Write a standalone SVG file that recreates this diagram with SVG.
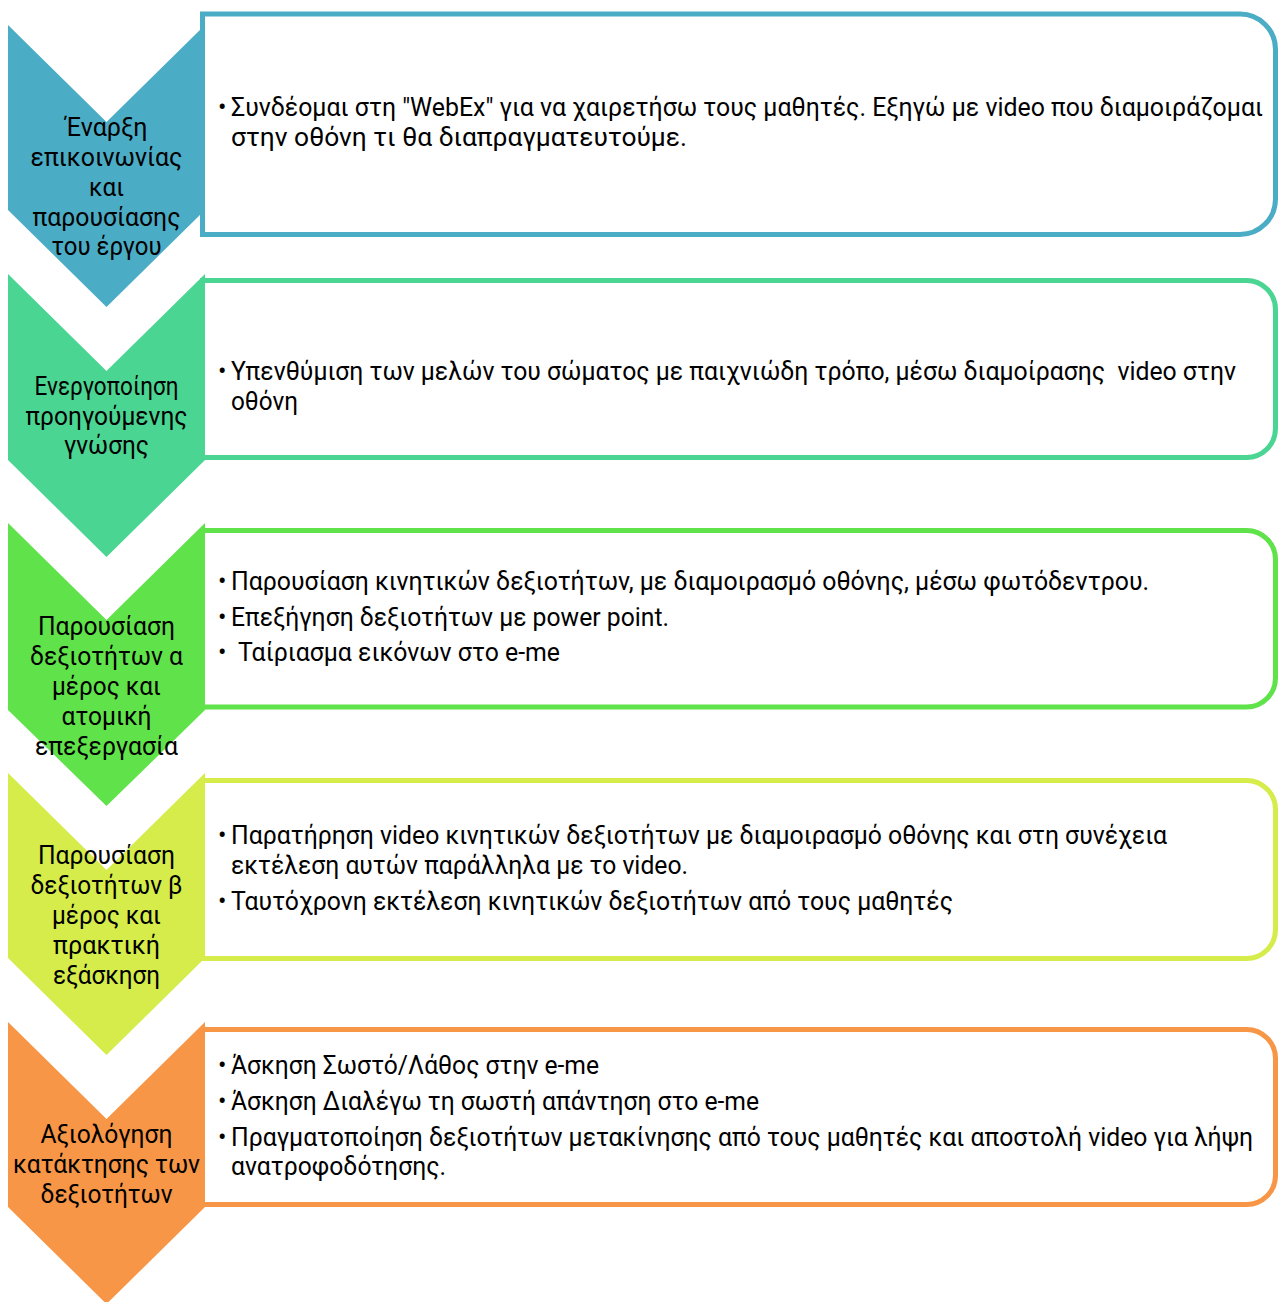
<svg xmlns="http://www.w3.org/2000/svg" width="1279" height="1302" viewBox="0 0 1279 1302">
<style>
  .box { fill: #ffffff; stroke-width: 5; }
  .lbl { font-family: Roboto, "Liberation Sans", "Noto Sans", sans-serif; font-size: 25px; fill: #000000; text-anchor: middle; }
  .txt { font-family: Roboto, "Liberation Sans", "Noto Sans", sans-serif; font-size: 25px; fill: #000000; white-space: pre; }
  .b1 { stroke: #4BACC6; } .f1 { fill: #4BACC6; }
  .b2 { stroke: #4AD593; } .f2 { fill: #4AD593; }
  .b3 { stroke: #60E24A; } .f3 { fill: #60E24A; }
  .b4 { stroke: #D5EC4A; } .f4 { fill: #D5EC4A; }
  .b5 { stroke: #F79646; } .f5 { fill: #F79646; }
</style>
<g id="connectors"></g>

<g id="step1">
  <path class="box b1" d="M202.5,14 H1240 A35.5,35.5 0 0 1 1275.5,49.5 V199 A35.5,35.5 0 0 1 1240,234.5 H202.5 Z"/>
  <path class="f1" d="M8,25 L106.5,122 L205,25 L205,210 L106.5,307 L8,210 Z"/>
  <text class="lbl" x="106.5" y="136" textLength="82" lengthAdjust="spacingAndGlyphs">Έναρξη</text>
  <text class="lbl" x="106.5" y="166" textLength="152" lengthAdjust="spacingAndGlyphs">επικοινωνίας</text>
  <text class="lbl" x="106.5" y="196" textLength="35" lengthAdjust="spacingAndGlyphs">και</text>
  <text class="lbl" x="106.5" y="226" textLength="148" lengthAdjust="spacingAndGlyphs">παρουσίασης</text>
  <text class="lbl" x="106.5" y="255" textLength="110" lengthAdjust="spacingAndGlyphs">του έργου</text>
  <text class="txt" x="218" y="116">•</text>
  <text class="txt" x="231" y="116" textLength="1032" lengthAdjust="spacingAndGlyphs">Συνδέομαι στη "WebEx" για να χαιρετήσω τους μαθητές. Εξηγώ με video που διαμοιράζομαι</text>
  <text class="txt" x="231" y="146" textLength="456" lengthAdjust="spacingAndGlyphs">στην οθόνη τι θα διαπραγματευτούμε.</text>
</g>

<g id="step2">
  <path class="box b2" d="M202.5,280.5 H1246.5 A29,29 0 0 1 1275.5,309.5 V428.5 A29,29 0 0 1 1246.5,457.5 H202.5 Z"/>
  <path class="f2" d="M8,274 L106.5,371 L205,274 L205,460 L106.5,557 L8,460 Z"/>
  <text class="lbl" x="106.5" y="395" textLength="144" lengthAdjust="spacingAndGlyphs">Ενεργοποίηση</text>
  <text class="lbl" x="106.5" y="424.5" textLength="162" lengthAdjust="spacingAndGlyphs">προηγούμενης</text>
  <text class="lbl" x="106.5" y="454" textLength="85" lengthAdjust="spacingAndGlyphs">γνώσης</text>
  <text class="txt" x="218" y="380">•</text>
  <text class="txt" x="231" y="380" textLength="1005" lengthAdjust="spacingAndGlyphs" xml:space="preserve">Υπενθύμιση των μελών του σώματος με παιχνιώδη τρόπο, μέσω διαμοίρασης  video στην</text>
  <text class="txt" x="231" y="410" textLength="67" lengthAdjust="spacingAndGlyphs">οθόνη</text>
</g>

<g id="step3">
  <path class="box b3" d="M202.5,530.5 H1246.5 A29,29 0 0 1 1275.5,559.5 V678 A29,29 0 0 1 1246.5,707 H202.5 Z"/>
  <path class="f3" d="M8,523 L106.5,620 L205,523 L205,710 L106.5,806 L8,710 Z"/>
  <text class="lbl" x="106.5" y="635" textLength="137" lengthAdjust="spacingAndGlyphs">Παρουσίαση</text>
  <text class="lbl" x="106.5" y="665" textLength="153" lengthAdjust="spacingAndGlyphs">δεξιοτήτων α</text>
  <text class="lbl" x="106.5" y="695" textLength="109" lengthAdjust="spacingAndGlyphs">μέρος και</text>
  <text class="lbl" x="106.5" y="725" textLength="90" lengthAdjust="spacingAndGlyphs">ατομική</text>
  <text class="lbl" x="106.5" y="755" textLength="143" lengthAdjust="spacingAndGlyphs">επεξεργασία</text>
  <text class="txt" x="218" y="590">•</text>
  <text class="txt" x="231" y="590" textLength="918" lengthAdjust="spacingAndGlyphs">Παρουσίαση κινητικών δεξιοτήτων, με διαμοιρασμό οθόνης, μέσω φωτόδεντρου.</text>
  <text class="txt" x="218" y="626">•</text>
  <text class="txt" x="231" y="626" textLength="438" lengthAdjust="spacingAndGlyphs">Επεξήγηση δεξιοτήτων με power point.</text>
  <text class="txt" x="218" y="661">•</text>
  <text class="txt" x="238" y="661" textLength="322" lengthAdjust="spacingAndGlyphs">Ταίριασμα εικόνων στο e-me</text>
</g>

<g id="step4">
  <path class="box b4" d="M202.5,780.5 H1246.5 A29,29 0 0 1 1275.5,809.5 V929.5 A29,29 0 0 1 1246.5,958.5 H202.5 Z"/>
  <path class="f4" d="M8,773 L106.5,870 L205,773 L205,958 L106.5,1055 L8,958 Z"/>
  <text class="lbl" x="106.5" y="864" textLength="137" lengthAdjust="spacingAndGlyphs">Παρουσίαση</text>
  <text class="lbl" x="106.5" y="894" textLength="152" lengthAdjust="spacingAndGlyphs">δεξιοτήτων β</text>
  <text class="lbl" x="106.5" y="924" textLength="109" lengthAdjust="spacingAndGlyphs">μέρος και</text>
  <text class="lbl" x="106.5" y="954" textLength="107" lengthAdjust="spacingAndGlyphs">πρακτική</text>
  <text class="lbl" x="106.5" y="984" textLength="107" lengthAdjust="spacingAndGlyphs">εξάσκηση</text>
  <text class="txt" x="218" y="844">•</text>
  <text class="txt" x="231" y="844" textLength="936" lengthAdjust="spacingAndGlyphs">Παρατήρηση video κινητικών δεξιοτήτων με διαμοιρασμό οθόνης και στη συνέχεια</text>
  <text class="txt" x="231" y="874" textLength="457" lengthAdjust="spacingAndGlyphs">εκτέλεση αυτών παράλληλα με το video.</text>
  <text class="txt" x="218" y="910">•</text>
  <text class="txt" x="231" y="910" textLength="722" lengthAdjust="spacingAndGlyphs">Ταυτόχρονη εκτέλεση κινητικών δεξιοτήτων από τους μαθητές</text>
</g>

<g id="step5">
  <path class="box b5" d="M202.5,1029.5 H1246.5 A29,29 0 0 1 1275.5,1058.5 V1175.5 A29,29 0 0 1 1246.5,1204.5 H202.5 Z"/>
  <path class="f5" d="M8,1022 L106.5,1119 L205,1022 L205,1207 L106.5,1304 L8,1207 Z"/>
  <text class="lbl" x="106.5" y="1143" textLength="132" lengthAdjust="spacingAndGlyphs">Αξιολόγηση</text>
  <text class="lbl" x="106.5" y="1173" textLength="187" lengthAdjust="spacingAndGlyphs">κατάκτησης των</text>
  <text class="lbl" x="106.5" y="1203" textLength="132" lengthAdjust="spacingAndGlyphs">δεξιοτήτων</text>
  <text class="txt" x="218" y="1074">•</text>
  <text class="txt" x="231" y="1074" textLength="368" lengthAdjust="spacingAndGlyphs">Άσκηση Σωστό/Λάθος στην e-me</text>
  <text class="txt" x="218" y="1110">•</text>
  <text class="txt" x="231" y="1110" textLength="528" lengthAdjust="spacingAndGlyphs">Άσκηση Διαλέγω τη σωστή απάντηση στο e-me</text>
  <text class="txt" x="218" y="1146">•</text>
  <text class="txt" x="231" y="1146" textLength="1022" lengthAdjust="spacingAndGlyphs">Πραγματοποίηση δεξιοτήτων μετακίνησης από τους μαθητές και αποστολή video για λήψη</text>
  <text class="txt" x="231" y="1175" textLength="215" lengthAdjust="spacingAndGlyphs">ανατροφοδότησης.</text>
</g>
</svg>
